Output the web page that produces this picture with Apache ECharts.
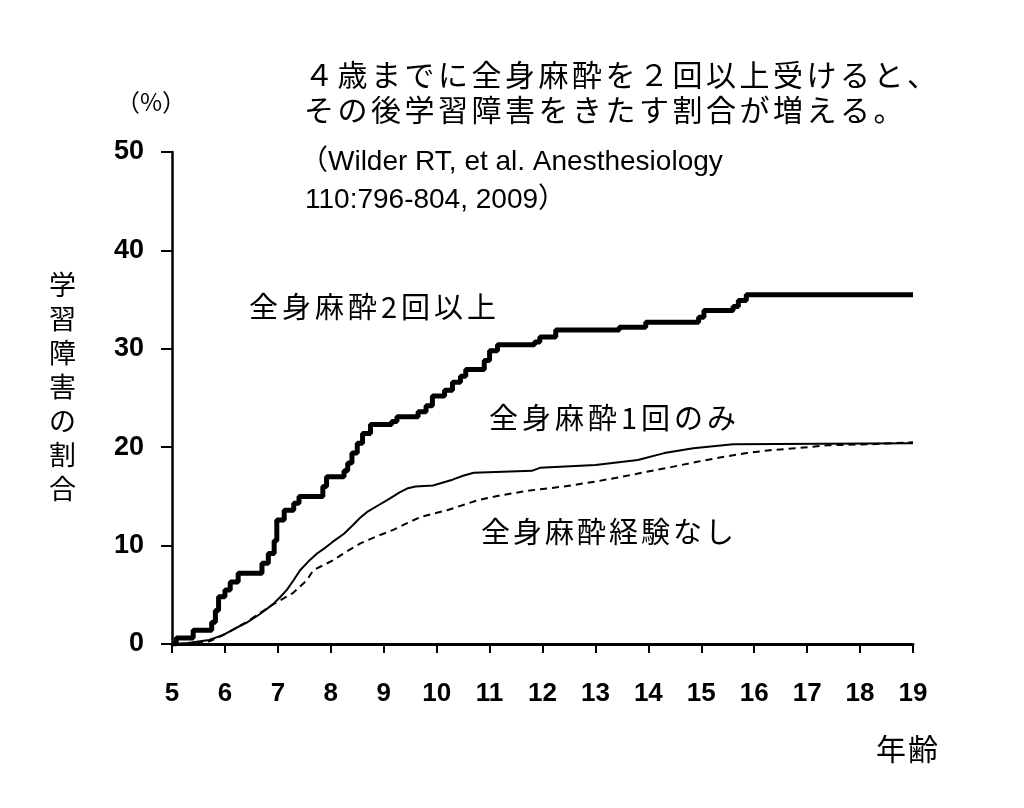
<!DOCTYPE html>
<html>
<head>
<meta charset="utf-8">
<script src="https://cdn.jsdelivr.net/npm/echarts@6/dist/echarts.min.js"></script>
<style>
  html, body { margin: 0; padding: 0; background: #fff; }
  #chart { width: 1024px; height: 808px; }
</style>
</head>
<body>
<div id="chart"></div>
<script>
// 年齢（歳）と学習障害の割合（%）を図から読み取った値
const twoOrMore = [
  [5, 0], [5.08, 0.6], [5.4, 1.4], [5.75, 2.2], [5.82, 3.4], [5.88, 4.8], [6.0, 5.5],
  [6.1, 6.3], [6.25, 7.2], [6.7, 8.2], [6.82, 9.2], [6.93, 10.5], [6.98, 12.6],
  [7.12, 13.6], [7.3, 14.3], [7.4, 15.0], [7.85, 16.0], [7.92, 17.0], [8.25, 17.6],
  [8.32, 18.4], [8.4, 19.4], [8.5, 20.4], [8.6, 21.4], [8.75, 22.3], [9.15, 22.6],
  [9.25, 23.1], [9.65, 23.6], [9.8, 24.2], [9.92, 25.2], [10.15, 25.8], [10.3, 26.6],
  [10.45, 27.2], [10.55, 27.9], [10.9, 28.8], [11.0, 29.8], [11.15, 30.4], [11.85, 30.7],
  [11.95, 31.2], [12.25, 31.9], [13.45, 32.2], [13.95, 32.7], [14.95, 33.2], [15.05, 33.9],
  [15.6, 34.3], [15.7, 34.9], [15.85, 35.5], [19, 35.5]
]

const onceOnly = [
  [5, 0], [5.3, 0.1], [5.7, 0.4], [5.96, 0.9], [6.2, 1.6], [6.42, 2.2], [6.65, 3.0],
  [6.9, 4.0], [7.05, 4.8], [7.17, 5.5], [7.3, 6.5], [7.42, 7.5], [7.58, 8.4], [7.74, 9.2],
  [7.9, 9.8], [8.04, 10.4], [8.25, 11.2], [8.42, 12.1], [8.55, 12.8], [8.68, 13.4],
  [8.9, 14.1], [9.12, 14.8], [9.3, 15.4], [9.44, 15.8], [9.6, 16.0], [9.93, 16.1],
  [10.3, 16.7], [10.5, 17.1], [10.7, 17.4], [11.8, 17.6], [11.95, 17.9], [13.0, 18.2],
  [13.8, 18.7], [14.3, 19.4], [14.85, 19.9], [15.6, 20.3], [19, 20.4]
]

const none = [
  [5, 0], [5.4, 0], [5.72, 0.3], [6.0, 1.0], [6.4, 2.2], [6.9, 4.0], [7.1, 4.6],
  [7.29, 5.2], [7.55, 6.5], [7.67, 7.5], [8.04, 8.5], [8.3, 9.4], [8.55, 10.2],
  [8.85, 10.9], [9.18, 11.6], [9.45, 12.3], [9.69, 12.9], [10.2, 13.6], [10.77, 14.6],
  [11.2, 15.1], [11.76, 15.6], [12.4, 16.0], [13.0, 16.5], [13.5, 17.0], [13.97, 17.5],
  [14.45, 18.0], [14.9, 18.5], [15.4, 19.0], [15.86, 19.4], [16.3, 19.7], [16.8, 19.9],
  [17.4, 20.2], [18.2, 20.3], [19, 20.5]
]

const seriesNames = ['全身麻酔2回以上', '全身麻酔1回のみ', '全身麻酔経験なし']
const titleLines = ['４歳までに全身麻酔を２回以上受けると、', 'その後学習障害をきたす割合が増える。']
const sourceLines = ['（Wilder RT, et al. Anesthesiology', '110:796-804, 2009）']
const yName = '学習障害の割合'
const xName = '年齢'

const jp = '"Noto Sans CJK JP", sans-serif'
const num = '"Liberation Sans", Arial, sans-serif'

// 文字間隔を空けて1文字ずつ並べる（元図は字間が広い）
const measureCtx = document.createElement('canvas').getContext('2d')
function spacedText(str, x, y, size, gap) {
  const font = size + 'px ' + jp
  measureCtx.font = font
  let cx = x
  return Array.from(str).map(ch => {
    const el = { type: 'text', left: cx, top: y, style: { text: ch, font: font, fill: '#000' } }
    cx += measureCtx.measureText(ch).width + gap
    return el
  })
}

const chart = echarts.init(document.getElementById('chart'))

chart.setOption({
  backgroundColor: '#fff',
  animation: false,
  grid: { left: 172, right: 111, top: 152, bottom: 164 },
  xAxis: {
    type: 'value', min: 5, max: 19, interval: 1,
    axisLine: { lineStyle: { color: '#000', width: 3 } },
    axisTick: { length: 9, lineStyle: { color: '#000', width: 2 } },
    axisLabel: { color: '#000', fontSize: 26, fontWeight: 'bold', fontFamily: num, margin: 37 },
    splitLine: { show: false }
  },
  yAxis: {
    type: 'value', min: 0, max: 50, interval: 10,
    axisLine: { show: true, lineStyle: { color: '#000', width: 2.5 } },
    axisTick: { show: true, length: 11, lineStyle: { color: '#000', width: 2 } },
    axisLabel: { color: '#000', fontSize: 27, fontWeight: 'bold', fontFamily: num, margin: 28 },
    splitLine: { show: false }
  },
  series: [
    {
      name: seriesNames[0], type: 'line', data: twoOrMore, step: 'end',
      showSymbol: false, lineStyle: { color: '#000', width: 5 }, z: 3
    },
    {
      name: seriesNames[1], type: 'line', data: onceOnly,
      showSymbol: false, lineStyle: { color: '#000', width: 2 }, z: 2
    },
    {
      name: seriesNames[2], type: 'line', data: none,
      showSymbol: false, lineStyle: { color: '#000', width: 2, type: [7, 5] }, z: 1
    }
  ],
  graphic: [
    ...spacedText(titleLines[0], 304, 60, 30, 3.5),
    ...spacedText(titleLines[1], 304, 95, 30, 3.5),
    { type: 'text', left: 300, top: 148, style: { text: sourceLines[0], font: '28px ' + num + ', ' + jp, fill: '#000' } },
    { type: 'text', left: 305, top: 186, style: { text: sourceLines[1], font: '28px ' + num + ', ' + jp, fill: '#000' } },
    { type: 'text', left: 116, top: 90, style: { text: '（%）', font: '24px ' + jp, fill: '#000' } },
    { type: 'text', left: 49, top: 268, style: { text: yName.split('').join('\n'), font: '27px ' + jp, lineHeight: 34, fill: '#000' } },
    ...spacedText(xName, 876, 734, 30, 2),
    ...spacedText(seriesNames[0], 249, 292, 29, 4),
    ...spacedText(seriesNames[1], 489, 403, 29, 4),
    ...spacedText(seriesNames[2], 481, 517, 29, 3)
  ]
})
</script>
</body>
</html>
